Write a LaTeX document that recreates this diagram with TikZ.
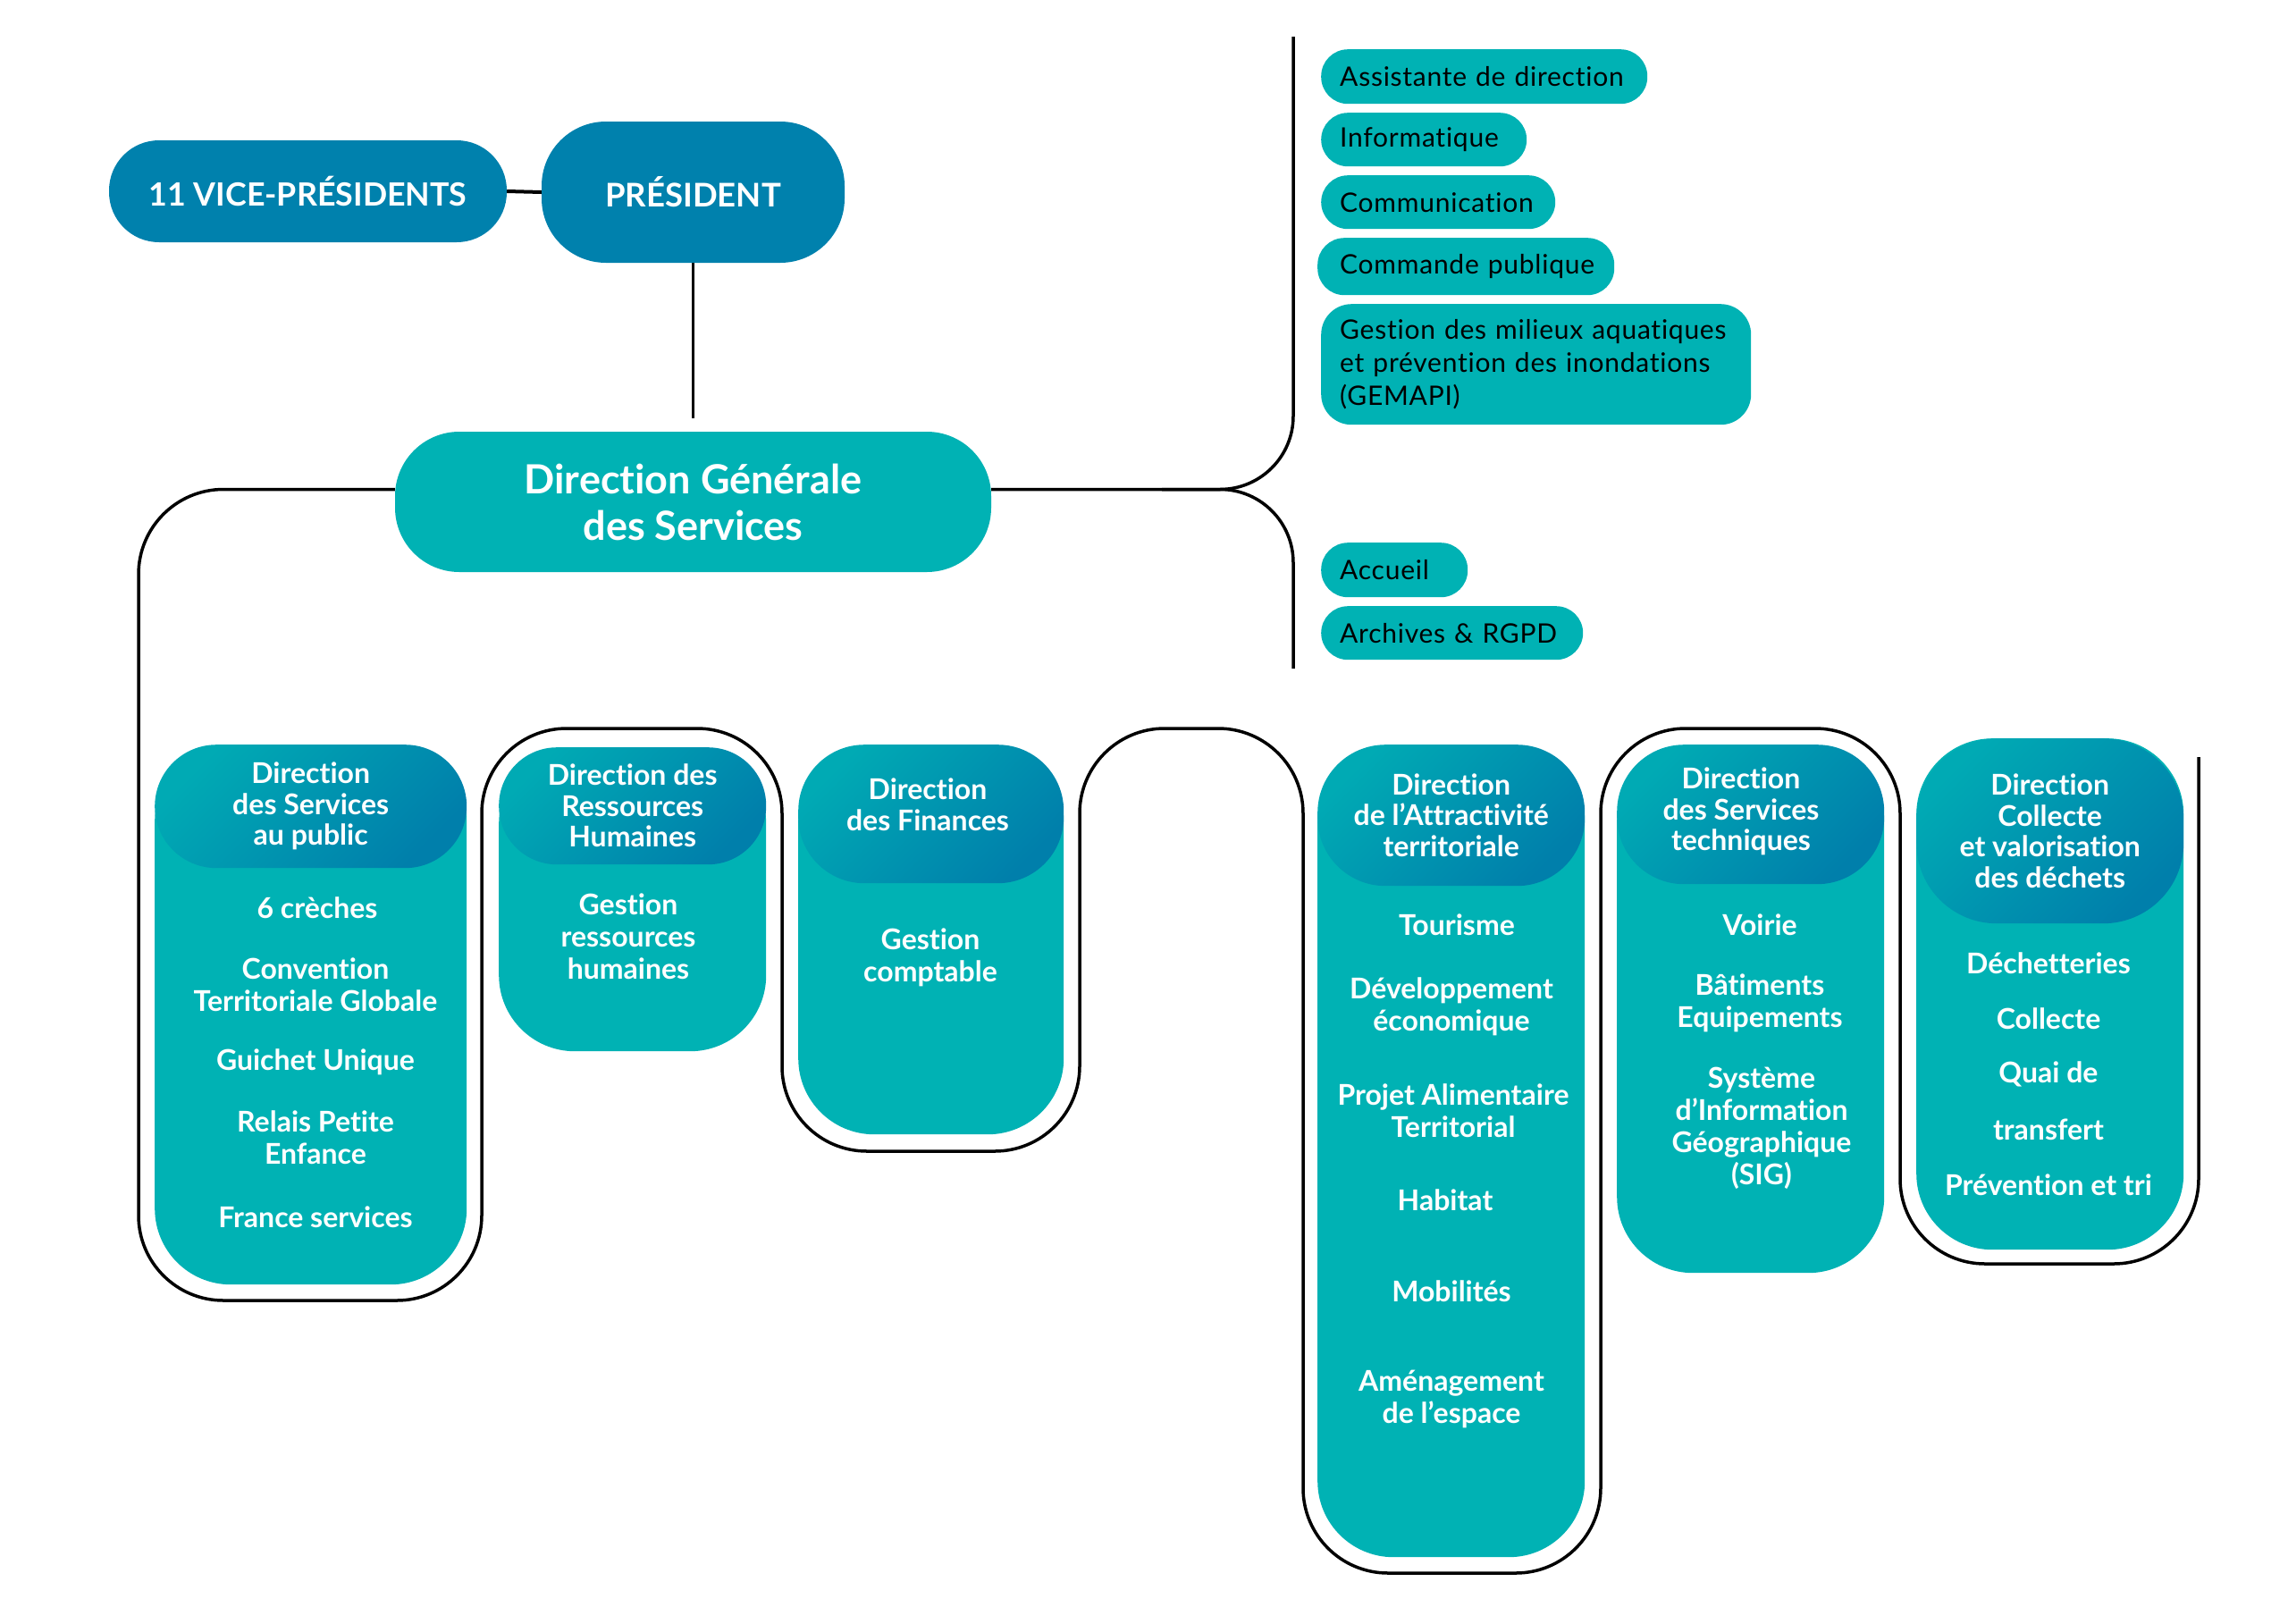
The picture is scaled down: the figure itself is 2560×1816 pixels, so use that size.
\documentclass[tikz,border=0pt]{standalone}
\usepackage{fontspec}
\setmainfont{Lato}[Ligatures={TeX,NoCommon}]
\newfontfamily\sidefont{Lato}[LetterSpace=2.5,Ligatures={TeX,NoCommon}]
\usetikzlibrary{calc}
\definecolor{pblue}{RGB}{0,129,173}
\definecolor{teal1}{RGB}{0,178,180}
\definecolor{hA}{RGB}{0,170,180}
\definecolor{hB}{RGB}{0,127,171}
\begin{document}
\begin{tikzpicture}[x=1pt,y=-1pt,
  presbox/.style={fill=pblue, inner sep=0, text=white, font=\bfseries\fontsize{36.5}{40}\selectfont},
  dgsbox/.style={fill=teal1, inner sep=0, text=white, align=center, rounded corners=72, font=\bfseries\fontsize{45}{52}\selectfont},
  bodybox/.style={fill=teal1, inner sep=0, anchor=north west, rounded corners=85},
  hdr/.style={top color=hA, bottom color=hB, shading angle=45, inner sep=0, anchor=north west, text=white, align=center, font=\bfseries\fontsize{32}{34.5}\selectfont},
  hdrtext/.style={text=white, align=center, inner sep=0, font=\bfseries\fontsize{32}{34.5}\selectfont},
  item/.style={text=white, align=center, inner sep=0, font=\bfseries\fontsize{32}{36}\selectfont},
  side/.style={fill=teal1, anchor=north west, rounded corners=30, inner xsep=21, inner ysep=0, align=left, text=black, font=\sidefont\fontsize{30}{37}\selectfont},
  link/.style={draw=black, line width=3.5},
]
\useasboundingbox[fill=white] (0,0) rectangle (2560,1816);

% top
\node[presbox, minimum width=445, minimum height=114, rounded corners=56, font=\bfseries\fontsize{35.8}{40}\selectfont] (vp) at (344.5,214) {11 VICE-PRÉSIDENTS};
\node[presbox, minimum width=339, minimum height=158, rounded corners=72] (pres) at (775.5,215) {PRÉSIDENT};
\node[dgsbox, minimum width=667, minimum height=157] (dgs) at (775.5,561.5) {Direction Générale\\des Services};

\draw[link, line width=4] (vp.east) -- (pres.west);
\draw[link, shorten >=15] (pres.south) -- (dgs.north);

% right side services
\node[side, minimum height=61, text width=323] (asst) at (1478,55) {\mbox{Assistante de direction}};
\node[side, minimum height=60, text width=188] (info) at (1478,126) {\mbox{Informatique}};
\node[side, minimum height=60, text width=220] (comm) at (1478,196) {\mbox{Communication}};
\node[side, minimum height=64, text width=282, inner xsep=25] (cmd) at (1474,266) {\mbox{Commande publique}};
\node[side, minimum height=135, text width=439, rounded corners=34] (gem) at (1478,340) {\mbox{Gestion des milieux aquatiques}\\\mbox{et prévention des inondations}\\(GEMAPI)};
\node[side, minimum height=61, text width=122] (acc) at (1478,607) {\mbox{Accueil}};
\node[side, minimum height=60, text width=251] (arch) at (1478,678) {\mbox{Archives \& RGPD}};

% brace
\coordinate (bm) at (1447,547.5);
\coordinate (bt) at (1447,41);
\coordinate (bb) at (1447,748);
\draw[link, rounded corners=82] ($(dgs.east)+(0,-14)$) -- (bm) -- (bt);
\draw[link, rounded corners=82] (1300,547.5) -- (bm) -- (bb);

% bottom boxes
\node[bodybox, minimum width=349, minimum height=604] (b1) at (173,833) {};
\node[hdr, minimum width=349, minimum height=138, rounded corners=69] (h1) at (173,833) {Direction\\des Services\\au public};
\node[bodybox, minimum width=299, minimum height=340] (b2) at (558,836) {};
\node[hdr, minimum width=299, minimum height=131, rounded corners=65] (h2) at (558,836) {Direction des\\Ressources\\Humaines};
\node[bodybox, minimum width=297, minimum height=436] (b3) at (893,833) {};
\node[hdr, minimum width=297, minimum height=155, rounded corners=74] (h3) at (893,833) {};
\node[hdrtext] (h3t) at (1038,900) {Direction\\des Finances};
\node[bodybox, minimum width=299, minimum height=909] (b4) at (1474,833) {};
\node[hdr, minimum width=299, minimum height=158, rounded corners=76] (h4) at (1474,833) {Direction\\de l’Attractivité\\territoriale};
\node[bodybox, minimum width=299, minimum height=591] (b5) at (1809,833) {};
\node[hdr, minimum width=299, minimum height=156, rounded corners=75] (h5) at (1809,833) {};
\node[hdrtext] (h5t) at (1948,908) {Direction\\des Services\\techniques};
\node[bodybox, minimum width=299, minimum height=572] (b6) at (2144,826) {};
\node[hdr, minimum width=299, minimum height=207, rounded corners=90] (h6) at (2144,826) {Direction\\Collecte\\et valorisation\\des déchets};

% items
\node[item] (i11) at (355,1016) {6 crèches};
\node[item] (i12) at (353,1102) {Convention\\Territoriale Globale};
\node[item] (i13) at (353,1188) {Guichet Unique};
\node[item] (i14) at (353,1273) {Relais Petite\\Enfance};
\node[item] (i15) at (353,1362) {France services};

\node[item] (i21) at (703,1048) {Gestion\\ressources\\humaines};

\node[item] (i31) at (1041,1071) {Gestion\\comptable};

\node[item] (i41) at (1630,1035) {Tourisme};
\node[item] (i42) at (1624,1126) {Développement\\économique};
\node[item] (i43) at (1626,1243) {Projet Alimentaire\\Territorial};
\node[item] (i44) at (1617,1343) {Habitat};
\node[item] (i45) at (1624,1445) {Mobilités};
\node[item] (i46) at (1624,1565) {Aménagement\\de l’espace};

\node[item] (i51) at (1969,1035) {Voirie};
\node[item] (i52) at (1969,1122) {Bâtiments\\Equipements};
\node[item] (i53) at (1971,1262) {Système\\d’Information\\Géographique\\(SIG)};

\node[item] (i61) at (2292,1078) {Déchetteries};
\node[item] (i62) at (2292,1140) {Collecte};
\node[item] (i63) at (2292,1202) {Quai de};
\node[item] (i64) at (2292,1264) {transfert};
\node[item] (i65) at (2292,1326) {Prévention et tri};

% snake connector
\coordinate (snakeend) at (2460,847);
\draw[link, rounded corners=95] ($(dgs.west)+(0,-14)$) -- (155,547.5) -- (155,1455) -- (539,1455) -- (539,815) -- (875,815) -- (875,1288) -- (1208,1288) -- (1208,815) -- (1458,815) -- (1458,1760) -- (1791,1760) -- (1791,815) -- (2126,815) -- (2126,1414) -- (2460,1414) -- (snakeend);
\end{tikzpicture}
\end{document}
